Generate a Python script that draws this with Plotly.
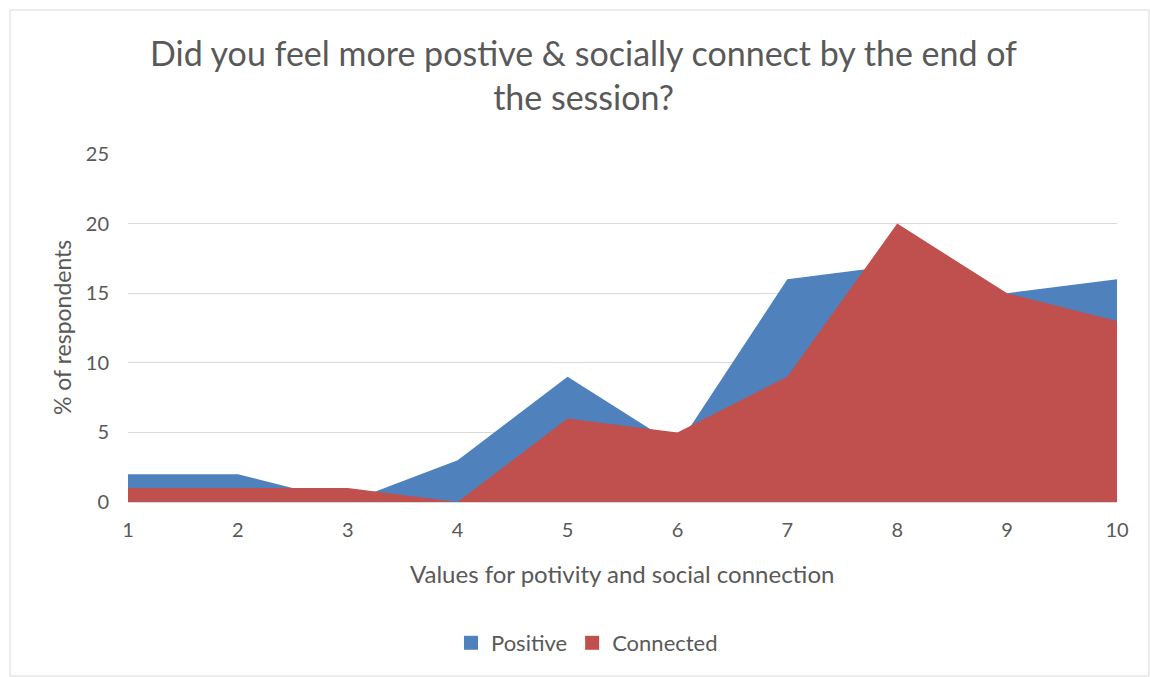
import plotly.graph_objects as go

categories = [1, 2, 3, 4, 5, 6, 7, 8, 9, 10]
positive = [2, 2, 0, 3, 9, 4, 16, 17, 15, 16]
connected = [1, 1, 1, 0, 6, 5, 9, 20, 15, 13]
y_ticks = [0, 5, 10, 15, 20, 25]
series_names = ["Positive", "Connected"]
series_colors = ["#4F81BD", "#C0504D"]

FONT = "Lato"
GRAY = "#595959"

fig = go.Figure()
for name, vals, col in zip(series_names, [positive, connected], series_colors):
    fig.add_trace(go.Scatter(x=categories, y=vals, name=name, mode="lines",
                             line=dict(width=0, color=col), fill="tozeroy",
                             fillcolor=col, showlegend=False))
for name, col in zip(series_names, series_colors):
    fig.add_trace(go.Scatter(x=[None], y=[None], name=name, mode="markers",
                             marker=dict(symbol="square", size=14, color=col),
                             showlegend=True))

L, R, T, B = 128, 33, 154, 175
W, H = 1150, 677
pw, ph = W - L - R, H - T - B

def px(x):
    return (x - L) / pw

def py(y):
    return (H - B - y) / ph

fig.update_layout(
    width=W, height=H,
    margin=dict(l=L, r=R, t=T, b=B),
    paper_bgcolor="white", plot_bgcolor="white",
    font=dict(family=FONT, color=GRAY, size=20),
    showlegend=True,
    legend=dict(orientation="h", x=px(587), xanchor="center", y=py(643), yanchor="middle",
                font=dict(size=22, color=GRAY), itemwidth=30, tracegroupgap=0),
    xaxis=dict(range=[1, 10], tickvals=categories, showgrid=False, zeroline=False,
               showline=False, ticks="", ticklabelstandoff=14,
               tickfont=dict(size=20, color=GRAY)),
    yaxis=dict(range=[0, 25], tickvals=y_ticks, showgrid=True, gridcolor="#d9d9d9",
               gridwidth=1.3, zeroline=True, zerolinecolor="#d9d9d9", zerolinewidth=1.3,
               ticks="", ticklabelstandoff=18, tickfont=dict(size=20, color=GRAY)),
    annotations=[
        dict(text="Did you feel more postive & socially connect by the end of<br>the session?",
             x=px(583), y=py(75), xref="paper", yref="paper", showarrow=False,
             xanchor="center", yanchor="middle", font=dict(size=34, color=GRAY)),
        dict(text="% of respondents", textangle=-90, x=px(62), y=py(328),
             xref="paper", yref="paper", showarrow=False, xanchor="center",
             yanchor="middle", font=dict(size=23, color=GRAY)),
        dict(text="Values for potivity and social connection", x=px(622), y=py(573),
             xref="paper", yref="paper", showarrow=False, xanchor="center",
             yanchor="middle", font=dict(size=24, color=GRAY)),
    ],
    shapes=[dict(type="rect", xref="paper", yref="paper", x0=px(10), x1=px(1149),
                 y0=py(676), y1=py(10), line=dict(color="#d9d9d9", width=1),
                 fillcolor="rgba(0,0,0,0)", layer="below")],
)

fig.write_html("out.html")
